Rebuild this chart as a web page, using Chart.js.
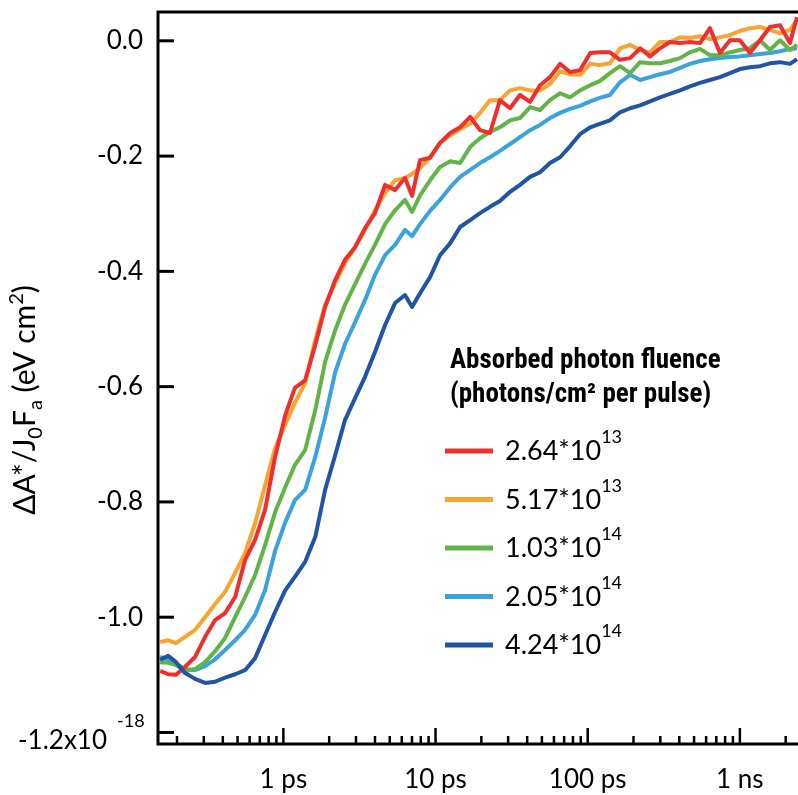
<!DOCTYPE html>
<html>
<head>
<meta charset="utf-8">
<script src="https://cdn.jsdelivr.net/npm/chart.js@4.4.0/dist/chart.umd.min.js"></script>
<style>
  body { margin: 0; background: #fff; }
</style>
</head>
<body>
<canvas id="myChart" width="798" height="795"></canvas>
<script>
// time delay in ps (read along the log axis)
var timePs = [0.155, 0.175, 0.197, 0.226, 0.263, 0.306, 0.356, 0.414, 0.482, 0.560,
  0.652, 0.758, 0.882, 1.03, 1.19, 1.39, 1.62, 1.88, 2.19, 2.54,
  2.96, 3.44, 4.00, 4.66, 5.42, 6.30, 7.01, 7.91, 9.20, 10.7,
  12.5, 14.5, 16.9, 19.6, 22.8, 26.5, 30.9, 35.9, 41.8, 48.6,
  56.5, 65.8, 76.5, 89.0, 104, 120, 140, 163, 190, 221,
  257, 299, 347, 404, 470, 547, 636, 740, 861, 1000,
  1165, 1356, 1577, 1835, 2134, 2372];

// dA*/J0Fa in units of 1e-18 eV cm2
var f264e13 = [-1.093, -1.099, -1.100, -1.086, -1.069, -1.034, -1.005, -0.993, -0.965, -0.901,
  -0.866, -0.814, -0.722, -0.649, -0.602, -0.589, -0.528, -0.462, -0.415, -0.380,
  -0.358, -0.325, -0.299, -0.250, -0.259, -0.238, -0.269, -0.207, -0.203, -0.177,
  -0.160, -0.150, -0.132, -0.155, -0.160, -0.103, -0.117, -0.094, -0.106, -0.077,
  -0.063, -0.040, -0.054, -0.051, -0.021, -0.020, -0.020, -0.033, -0.030, -0.013,
  -0.027, -0.013, -0.002, -0.004, -0.002, -0.004, 0.022, -0.021, 0.001, 0.001,
  -0.021, 0.001, 0.024, 0.027, -0.004, 0.041];
var f517e13 = [-1.043, -1.040, -1.045, -1.034, -1.022, -1.000, -0.977, -0.956, -0.923, -0.889,
  -0.837, -0.771, -0.707, -0.665, -0.628, -0.594, -0.519, -0.458, -0.420, -0.386,
  -0.358, -0.328, -0.294, -0.264, -0.242, -0.238, -0.231, -0.221, -0.202, -0.177,
  -0.164, -0.153, -0.144, -0.125, -0.103, -0.103, -0.086, -0.082, -0.086, -0.086,
  -0.075, -0.053, -0.058, -0.059, -0.040, -0.042, -0.039, -0.013, -0.007, -0.016,
  -0.020, -0.002, -0.002, 0.006, 0.005, 0.008, 0.003, 0.006, 0.010, 0.017,
  0.022, 0.024, 0.019, 0.013, 0.019, 0.036];
var f103e14 = [-1.078, -1.079, -1.083, -1.093, -1.090, -1.078, -1.059, -1.036, -1.000, -0.965,
  -0.927, -0.875, -0.818, -0.774, -0.736, -0.710, -0.641, -0.557, -0.502, -0.458,
  -0.422, -0.387, -0.354, -0.318, -0.294, -0.276, -0.297, -0.268, -0.242, -0.219,
  -0.209, -0.212, -0.184, -0.169, -0.158, -0.150, -0.138, -0.134, -0.115, -0.120,
  -0.103, -0.091, -0.098, -0.086, -0.077, -0.070, -0.056, -0.044, -0.056, -0.037,
  -0.039, -0.039, -0.035, -0.030, -0.020, -0.014, -0.025, -0.025, -0.020, -0.016,
  -0.013, 0.001, -0.016, 0.001, -0.016, -0.007];
var f205e14 = [-1.069, -1.073, -1.081, -1.090, -1.092, -1.085, -1.073, -1.057, -1.040, -1.022,
  -0.996, -0.953, -0.885, -0.835, -0.797, -0.779, -0.722, -0.654, -0.575, -0.526,
  -0.488, -0.450, -0.406, -0.372, -0.354, -0.328, -0.339, -0.318, -0.295, -0.276,
  -0.254, -0.236, -0.224, -0.212, -0.202, -0.191, -0.179, -0.167, -0.155, -0.146,
  -0.134, -0.125, -0.118, -0.113, -0.105, -0.099, -0.094, -0.072, -0.059, -0.068,
  -0.063, -0.058, -0.054, -0.047, -0.040, -0.035, -0.032, -0.030, -0.028, -0.027,
  -0.025, -0.023, -0.021, -0.018, -0.014, -0.013];
var f424e14 = [-1.074, -1.067, -1.078, -1.097, -1.107, -1.114, -1.112, -1.105, -1.099, -1.092,
  -1.071, -1.031, -0.991, -0.953, -0.930, -0.904, -0.861, -0.779, -0.719, -0.658,
  -0.620, -0.583, -0.540, -0.493, -0.455, -0.441, -0.462, -0.438, -0.410, -0.372,
  -0.351, -0.323, -0.311, -0.299, -0.288, -0.278, -0.262, -0.250, -0.236, -0.228,
  -0.212, -0.202, -0.183, -0.162, -0.150, -0.144, -0.138, -0.124, -0.117, -0.112,
  -0.105, -0.098, -0.092, -0.086, -0.079, -0.073, -0.068, -0.063, -0.056, -0.049,
  -0.046, -0.044, -0.039, -0.037, -0.040, -0.032];

var legendMantissa = ['2.64', '5.17', '1.03', '2.05', '4.24'];
var legendExponent = ['13', '13', '14', '14', '14'];
var seriesColors = ['#ee2f2e', '#f8a431', '#62b448', '#3aa2dc', '#1f55a4'];
var seriesOrder = [1, 4, 2, 3, 0];
var seriesValues = [f264e13, f517e13, f103e14, f205e14, f424e14];

var xTickValues = [1, 10, 100, 1000];
var xTickLabels = ['1 ps', '10 ps', '100 ps', '1 ns'];
var xMinorTicks = [0.2, 0.3, 0.4, 0.5, 0.6, 0.7, 0.8, 0.9, 2, 3, 4, 5, 6, 7, 8, 9,
  20, 30, 40, 50, 60, 70, 80, 90, 200, 300, 400, 500, 600, 700, 800, 900, 2000];
var yTickValues = [0, -0.2, -0.4, -0.6, -0.8, -1.0, -1.2];
var yTickLabels = ['0.0', '-0.2', '-0.4', '-0.6', '-0.8', '-1.0', ''];

var FONT = 'Lato, "DejaVu Sans", sans-serif';
var BOLD_NARROW = 'bold 27px "Liberation Sans Narrow", "Roboto Condensed", sans-serif';

function makeDatasets() {
  return seriesValues.map(function (vals, i) {
    return {
      label: legendMantissa[i] + '*10^' + legendExponent[i],
      data: timePs.map(function (t, k) { return { x: t, y: vals[k] }; }),
      borderColor: seriesColors[i],
      borderWidth: 4,
      pointRadius: 0,
      tension: 0,
      fill: false,
      order: seriesOrder[i],
      borderJoinStyle: 'round'
    };
  });
}

function drawRich(ctx, parts, x, y) {
  parts.forEach(function (p) {
    ctx.font = p.font;
    ctx.fillText(p.text, x, y + (p.dy || 0));
    x += ctx.measureText(p.text).width;
  });
  return x;
}
function richWidth(ctx, parts) {
  var w = 0;
  parts.forEach(function (p) { ctx.font = p.font; w += ctx.measureText(p.text).width; });
  return w;
}

var decorPlugin = {
  id: 'decor',
  afterDatasetsDraw: function (chart) {
    var ctx = chart.ctx, a = chart.chartArea;
    var xs = chart.scales.x, ys = chart.scales.y;
    ctx.save();
    ctx.strokeStyle = '#000';
    ctx.lineWidth = 3;
    ctx.beginPath();
    ctx.moveTo(a.right + 2, a.top);
    ctx.lineTo(a.left, a.top);
    ctx.lineTo(a.left, a.bottom);
    ctx.lineTo(a.right + 2, a.bottom);
    ctx.stroke();

    // inward ticks
    yTickValues.forEach(function (v) {
      var py = ys.getPixelForValue(v);
      ctx.beginPath(); ctx.moveTo(a.left, py); ctx.lineTo(a.left + 16, py); ctx.stroke();
    });
    ctx.lineWidth = 2.5;
    xTickValues.forEach(function (v) {
      var px = xs.getPixelForValue(v);
      ctx.beginPath(); ctx.moveTo(px, a.bottom); ctx.lineTo(px, a.bottom - 16); ctx.stroke();
    });
    xMinorTicks.forEach(function (v) {
      var px = xs.getPixelForValue(v);
      ctx.beginPath(); ctx.moveTo(px, a.bottom); ctx.lineTo(px, a.bottom - 8); ctx.stroke();
    });
    ctx.restore();
  },
  afterDraw: function (chart) {
    var ctx = chart.ctx;
    var ys = chart.scales.y;
    ctx.save();
    ctx.fillStyle = '#000';
    ctx.textBaseline = 'alphabetic';
    ctx.textAlign = 'left';

    // bottom y label with multiplier
    var pyLow = ys.getPixelForValue(-1.2);
    ctx.font = '26px ' + FONT;
    var base = '-1.2x10';
    var bw = ctx.measureText(base).width;
    ctx.fillText(base, 107 - bw, pyLow + 17);
    ctx.font = '18px ' + FONT;
    ctx.fillText('-18', 117, pyLow - 5);

    // y axis title
    var big = '30px ' + FONT, small = '20px ' + FONT;
    var title = [
      { text: '\u0394A*/J', font: big },
      { text: '0', font: small, dy: 7 },
      { text: 'F', font: big },
      { text: 'a', font: small, dy: 7 },
      { text: ' (eV cm', font: big },
      { text: '2', font: small, dy: -12 },
      { text: ')', font: big }
    ];
    ctx.save();
    ctx.translate(35, 400);
    ctx.rotate(-Math.PI / 2);
    drawRich(ctx, title, -richWidth(ctx, title) / 2, 0);
    ctx.restore();

    // legend
    ctx.font = BOLD_NARROW;
    ctx.fillText('Absorbed photon fluence', 450, 368);
    ctx.fillText('(photons/cm\u00b2 per pulse)', 450, 402);
    for (var i = 0; i < legendMantissa.length; i++) {
      var ly = 451 + i * 48.5;
      ctx.strokeStyle = seriesColors[i];
      ctx.lineWidth = 5;
      ctx.beginPath(); ctx.moveTo(445, ly); ctx.lineTo(493, ly); ctx.stroke();
      drawRich(ctx, [
        { text: legendMantissa[i] + '*10', font: '27px ' + FONT },
        { text: legendExponent[i], font: '18px ' + FONT, dy: -17 }
      ], 505, ly + 9);
    }
    ctx.restore();
  }
};

var ctx = document.getElementById('myChart').getContext('2d');
var myChart = new Chart(ctx, {
  type: 'line',
  data: { datasets: makeDatasets() },
  options: {
    responsive: false,
    animation: false,
    devicePixelRatio: 1,
    layout: { padding: { top: 12, right: 0, left: 0, bottom: 0 } },
    plugins: { legend: { display: false }, tooltip: { enabled: false } },
    scales: {
      x: {
        type: 'logarithmic',
        min: 0.15,
        max: 2410,
        grid: { display: false, drawTicks: false },
        border: { display: false },
        afterBuildTicks: function (scale) {
          scale.ticks = xTickValues.map(function (v) { return { value: v }; });
        },
        afterFit: function (scale) {
          scale.height = 51;
          scale.paddingLeft = 0; scale.paddingRight = 0;
        },
        ticks: {
          color: '#000',
          padding: 20,
          maxRotation: 0,
          autoSkip: false,
          font: { family: FONT, size: 26 },
          callback: function (v) {
            var k = xTickValues.indexOf(v);
            return k >= 0 ? xTickLabels[k] : '';
          }
        }
      },
      y: {
        type: 'linear',
        min: -1.22,
        max: 0.05,
        grid: { display: false, drawTicks: false },
        border: { display: false },
        afterBuildTicks: function (scale) {
          scale.ticks = yTickValues.map(function (v) { return { value: v }; });
        },
        afterFit: function (scale) {
          scale.width = 158;
          scale.paddingTop = 0; scale.paddingBottom = 0;
        },
        ticks: {
          color: '#000',
          padding: 15,
          font: { family: FONT, size: 26 },
          callback: function (v) {
            var k = yTickValues.indexOf(v);
            return k >= 0 ? yTickLabels[k] : '';
          }
        }
      }
    }
  },
  plugins: [decorPlugin]
});
</script>
</body>
</html>
